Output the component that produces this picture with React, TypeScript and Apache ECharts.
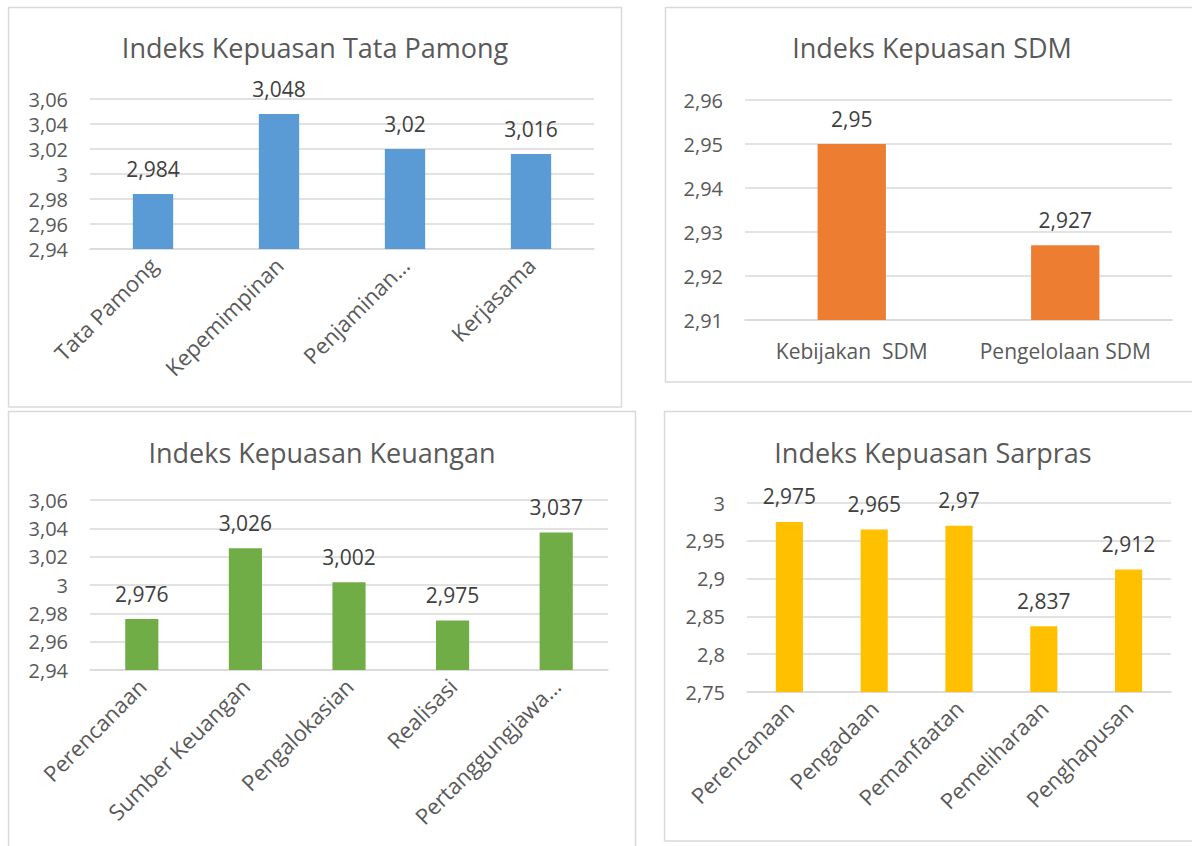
import React, { useEffect, useRef } from "react";
import * as echarts from "echarts";

const tpCategories = ["Tata Pamong", "Kepemimpinan", "Penjaminan…", "Kerjasama"];
const tpValues = [2.984, 3.048, 3.02, 3.016];

const sdmCategories = ["Kebijakan  SDM", "Pengelolaan SDM"];
const sdmValues = [2.95, 2.927];

const keuCategories = ["Perencanaan", "Sumber Keuangan", "Pengalokasian", "Realisasi", "Pertanggungjawa…"];
const keuValues = [2.976, 3.026, 3.002, 2.975, 3.037];

const sarCategories = ["Perencanaan", "Pengadaan", "Pemanfaatan", "Pemeliharaan", "Penghapusan"];
const sarValues = [2.975, 2.965, 2.97, 2.837, 2.912];

const titles = [
  "Indeks Kepuasan Tata Pamong",
  "Indeks Kepuasan SDM",
  "Indeks Kepuasan Keuangan",
  "Indeks Kepuasan Sarpras",
];

const FONT = "'Open Sans', 'Noto Sans', sans-serif";
const fmt = (v: number) => String(+Number(v).toFixed(3)).replace(".", ",");

export default function App() {
  const ref = useRef<HTMLDivElement>(null);
  useEffect(() => {
    if (!ref.current) return;
    const chart = echarts.init(ref.current, undefined, { renderer: "svg" });

    const grids = [
      { left: 90, top: 99, width: 504, height: 150 },
      { left: 745, top: 100, width: 427, height: 220 },
      { left: 90, top: 500, width: 518, height: 170 },
      { left: 747, top: 503, width: 424, height: 189 },
    ];
    const yRanges = [
      { min: 2.94, max: 3.06, interval: 0.02 },
      { min: 2.91, max: 2.96, interval: 0.01 },
      { min: 2.94, max: 3.06, interval: 0.02 },
      { min: 2.75, max: 3.0, interval: 0.05 },
    ];
    const cats = [tpCategories, sdmCategories, keuCategories, sarCategories];
    const vals = [tpValues, sdmValues, keuValues, sarValues];
    const colors = ["#5B9BD5", "#ED7D31", "#70AD47", "#FFC000"];
    const rotates = [45, 0, 45, 45];

    const borders = [
      { x: 8.5, y: 7.5, width: 613, height: 399.5 },
      { x: 665.5, y: 7.5, width: 540, height: 374.5 },
      { x: 8.5, y: 411.5, width: 627, height: 450 },
      { x: 664.5, y: 411.5, width: 540, height: 429.5 },
    ];
    const titlePos = [
      { x: 315, y: 47 },
      { x: 932, y: 47 },
      { x: 322, y: 452 },
      { x: 933, y: 452 },
    ];

    const option: any = {
      animation: false,
      backgroundColor: "#ffffff",
      grid: grids,
      xAxis: cats.map((c, i) => ({
        type: "category",
        gridIndex: i,
        data: c,
        axisLine: { show: true, lineStyle: { color: "#D9D9D9", width: 1.5 } },
        axisTick: { show: false },
        axisLabel: {
          interval: 0,
          rotate: rotates[i],
          margin: rotates[i] ? 12 : 20,
          color: "#595959",
          fontSize: rotates[i] ? 22 : 21,
          fontFamily: FONT,
        },
      })),
      yAxis: yRanges.map((r, i) => ({
        type: "value",
        gridIndex: i,
        min: r.min,
        max: r.max,
        interval: r.interval,
        axisLine: { show: false },
        axisTick: { show: false },
        splitLine: { lineStyle: { color: "#D9D9D9", width: 1.5 } },
        axisLabel: {
          margin: 22,
          color: "#595959",
          fontSize: 20,
          fontFamily: FONT,
          formatter: (v: number) => fmt(v),
        },
      })),
      series: vals.map((v, i) => ({
        type: "bar",
        xAxisIndex: i,
        yAxisIndex: i,
        data: v,
        barWidth: "32%",
        itemStyle: { color: colors[i] },
        label: {
          show: true,
          position: "top",
          distance: 15,
          color: "#404040",
          fontSize: 21,
          fontFamily: FONT,
          formatter: (p: any) => fmt(p.value),
        },
      })),
      graphic: [
        ...borders.map((b) => ({
          type: "rect",
          shape: b,
          style: { fill: "none", stroke: "#D9D9D9", lineWidth: 1.5 },
          silent: true,
        })),
        ...titles.map((t, i) => ({
          type: "text",
          x: titlePos[i].x,
          y: titlePos[i].y,
          style: {
            text: t,
            fill: "#595959",
            fontSize: 27,
            fontFamily: FONT,
            textAlign: "center",
            textVerticalAlign: "middle",
          },
        })),
      ],
    };
    chart.setOption(option);
    return () => chart.dispose();
  }, []);

  return (
    <div
      ref={ref}
      style={{ position: "absolute", left: 0, top: 0, width: 1192, height: 846 }}
    />
  );
}
